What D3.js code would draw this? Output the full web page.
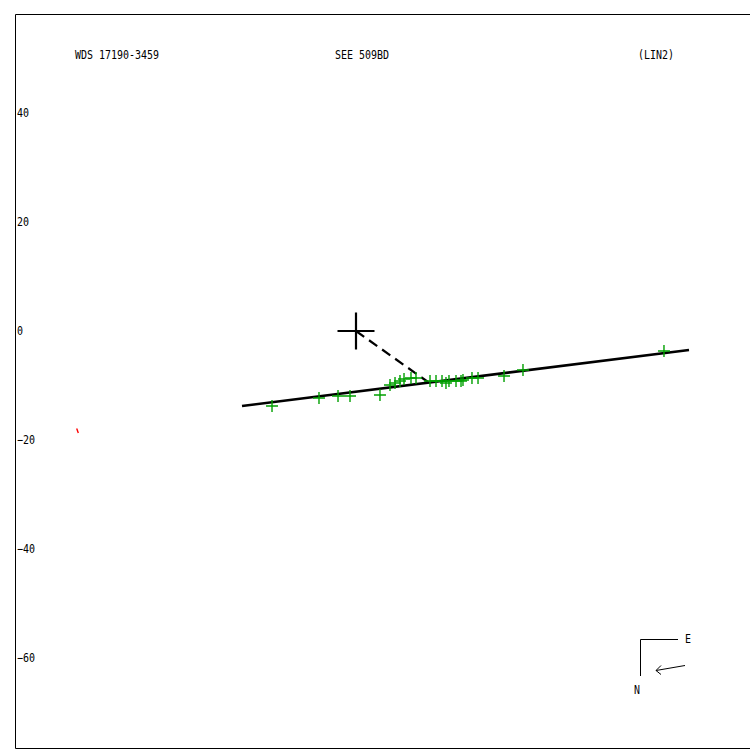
<!DOCTYPE html>
<html><head><meta charset="utf-8">
<script src="https://cdn.jsdelivr.net/npm/d3@7"></script>
<style>
html,body{margin:0;padding:0;background:#fff;}
svg{display:block;}
text{font-family:"DejaVu Sans Mono",monospace;}
</style></head>
<body>
<svg id="c" width="750" height="750"></svg>
<script>
// Observations (green crosses), arcsec offsets relative to primary
const obsX = [-15.41,-6.79,-3.30,-1.10,4.40,6.24,7.16,8.07,8.81,10.09,11.01,13.58,14.68,15.78,16.51,17.06,18.35,19.27,19.63,21.28,22.39,27.16,30.64,56.51];
const obsY = [-13.76,-12.29,-11.93,-11.93,-11.74,-9.91,-9.54,-9.17,-8.81,-8.62,-8.62,-9.17,-9.17,-9.17,-9.54,-9.17,-9.17,-9.17,-8.99,-8.62,-8.62,-8.26,-7.16,-3.67];
// Linear fit endpoints
const fitX = [-20.92, 61.10];
const fitY = [-13.76, -3.49];
// Dashed connector from primary
const dashX = [0, 13.21];
const dashY = [0, -9.36];
// Primary
const primX = [0];
const primY = [0];
// Red mark
const redX = [-51.25, -50.95];
const redY = [-17.9, -18.7];
// Tick labels
const yTicks = [40, 20, 0, -20, -40, -60];
const titles = ["WDS 17190-3459", "SEE 509BD", "(LIN2)"];

const svg = d3.select("#c");
const W = 750, H = 750;
const mLeft = 15, mTop = 14, mBottom = 748;
const k = 5.45, ox = 356, oy = 331;
const x = d3.scaleLinear().domain([(mLeft-ox)/k, (W-ox)/k]).range([mLeft, W]);
const y = d3.scaleLinear().domain([(oy-mTop)/k, (oy-mBottom)/k]).range([mTop, mBottom]);

// frame (left, top, bottom)
svg.append("path")
  .attr("d", `M${W},${mTop+0.5}H${mLeft+0.5}V${mBottom+0.5}H${W}`)
  .attr("fill","none").attr("stroke","#000").attr("stroke-width",1);

// y axis labels
const ax = d3.axisRight(y).tickValues(yTicks).tickSize(0).tickPadding(2).tickFormat(d3.format("d"));
const g = svg.append("g").attr("transform", `translate(${mLeft},0)`).call(ax);
g.select(".domain").remove();
g.selectAll("text").attr("font-size", 12).attr("fill","#000")
  .attr("font-family","DejaVu Sans Mono, monospace")
  .each(function(d){ d3.select(this).attr("textLength", String(d).length*6).attr("lengthAdjust","spacingAndGlyphs"); });

// titles
const titlePos = [75, 335, 638];
titles.forEach((t,i)=>{
  svg.append("text").attr("x", titlePos[i]).attr("y", 59)
    .attr("font-size", 13).attr("fill","#000")
    .attr("textLength", t.length*6).attr("lengthAdjust","spacingAndGlyphs")
    .text(t);
});

// fit line
const line = d3.line().x(d=>x(d[0])).y(d=>y(d[1]));
svg.append("path").datum(fitX.map((v,i)=>[v,fitY[i]]))
  .attr("d", line).attr("stroke","#000").attr("stroke-width",2.6).attr("fill","none");

// dashed line
svg.append("path").datum(dashX.map((v,i)=>[v,dashY[i]]))
  .attr("d", line).attr("stroke","#000").attr("stroke-width",2.2).attr("fill","none")
  .attr("stroke-dasharray","10,6");

// observations
const cs = 6;
const obs = obsX.map((v,i)=>[v, obsY[i]]);
svg.append("g").selectAll("path").data(obs).join("path")
  .attr("d", d=>`M${x(d[0])-cs},${y(d[1])}H${x(d[0])+cs}M${x(d[0])},${y(d[1])-cs}V${y(d[1])+cs}`)
  .attr("stroke","#00a000").attr("stroke-width",1.4).attr("fill","none");

// primary big cross
const ps = 18.5;
svg.append("g").selectAll("path").data(primX.map((v,i)=>[v,primY[i]])).join("path")
  .attr("d", d=>`M${x(d[0])-ps},${y(d[1])}H${x(d[0])+ps}M${x(d[0])},${y(d[1])-ps}V${y(d[1])+ps}`)
  .attr("stroke","#000").attr("stroke-width",2.2).attr("fill","none");

// red mark
svg.append("path").datum(redX.map((v,i)=>[v,redY[i]]))
  .attr("d", line).attr("stroke","#ff0000").attr("stroke-width",1.4).attr("fill","none");

// compass
const cg = svg.append("g");
cg.append("path").attr("d","M678,639.5H640.5V676").attr("stroke","#000").attr("fill","none").attr("stroke-width",1);
cg.append("path").attr("d","M685,665.5L656,670.5M656,670.5L661,665.5M656,670.5L661,674.5").attr("stroke","#000").attr("fill","none").attr("stroke-width",1);
cg.append("text").attr("x",685).attr("y",643).attr("font-size",12).attr("textLength",6).attr("lengthAdjust","spacingAndGlyphs").text("E");
cg.append("text").attr("x",634).attr("y",694).attr("font-size",12).attr("textLength",6).attr("lengthAdjust","spacingAndGlyphs").text("N");
</script>
</body></html>
